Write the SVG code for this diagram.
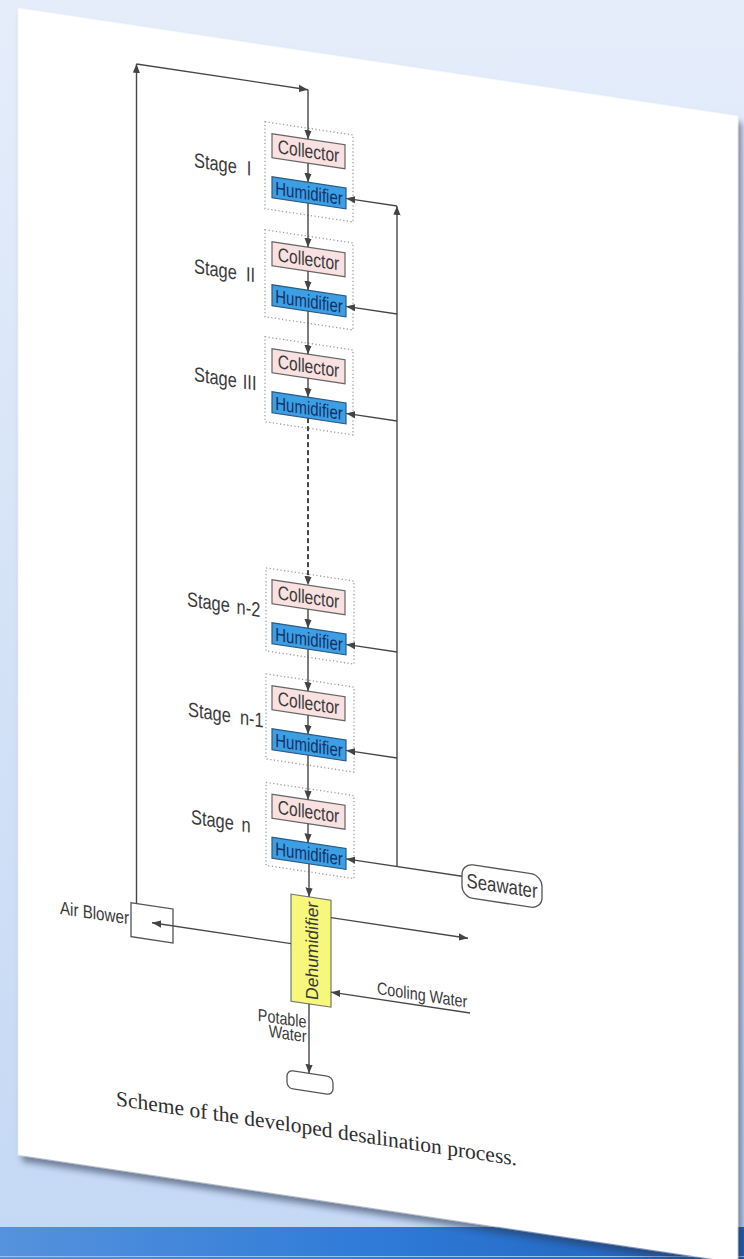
<svg xmlns="http://www.w3.org/2000/svg" width="744" height="1259" viewBox="0 0 744 1259">
<defs>
<linearGradient id="bg" x1="0" y1="0" x2="0" y2="1">
<stop offset="0" stop-color="#e5edfa"/>
<stop offset="1" stop-color="#c4d8f4"/>
</linearGradient>
<linearGradient id="bar" x1="0" y1="0" x2="1" y2="0">
<stop offset="0" stop-color="#5692dd"/>
<stop offset="0.5" stop-color="#2f7bd8"/>
<stop offset="1" stop-color="#1f5fb8"/>
</linearGradient>
<filter id="shadow" x="-5%" y="-5%" width="115%" height="115%">
<feDropShadow dx="4" dy="6" stdDeviation="3" flood-color="#2a3550" flood-opacity="0.55"/>
</filter>
<marker id="ah" viewBox="0 0 10 8" refX="10" refY="4" markerWidth="9" markerHeight="8" markerUnits="userSpaceOnUse" orient="auto">
<path d="M0,0 L10,4 L0,8 z" fill="#444"/>
</marker>
<style>
.ln{stroke:#474747;stroke-width:1.4;fill:none;marker-end:url(#ah)}
.dash{stroke-dasharray:5 3;stroke-width:2}
.dot{fill:none;stroke:#9a9a9a;stroke-width:1.3;stroke-dasharray:1.2 2.4}
.col{fill:#f9e1e1;stroke:#666;stroke-width:1.2}
.hum{fill:#3d9fe3;stroke:#2b5a86;stroke-width:1.2}
.deh{fill:#f7f77c;stroke:#777;stroke-width:1.2}
.box{fill:#fff;stroke:#555;stroke-width:1.3}
.t{font-family:"Liberation Sans",Arial,sans-serif;fill:#3a3a3a}
.tc{font-size:19.5px;text-anchor:middle}
.th{font-size:19px;text-anchor:middle;fill:#12326a}
.ts{font-size:20.5px}
.tm{font-size:17.5px}
.cap{font-family:"Liberation Serif","Times New Roman",serif;font-size:21.5px;fill:#2e2e2e}
</style>
</defs>
<rect x="0" y="0" width="744" height="1259" fill="url(#bg)"/>
<rect x="0" y="1227" width="744" height="32" fill="url(#bar)"/>
<rect x="0" y="1256" width="744" height="1" fill="#9cc0ee"/>
<g transform="matrix(1 0.15 0 1 0 0)">
<rect id="page" x="18" y="5.3" width="720" height="1147" fill="#ffffff" filter="url(#shadow)"/>

<g id="stage1">
<rect class="dot" x="265" y="82" width="88" height="87"/>
<text class="t ts" transform="translate(194 138) scale(0.8 1)">Stage<tspan x="66">I</tspan></text>
</g>
<g id="collector1"><rect class="col" x="272" y="93" width="73" height="24"/><text class="t tc" transform="translate(308.5 111.5) scale(0.8 1)">Collector</text></g>
<g id="humidifier1"><rect class="hum" x="272" y="136" width="74" height="21"/><text class="t th" transform="translate(309 153.5) scale(0.79 1)">Humidifier</text></g>

<g id="stage2">
<rect class="dot" x="265" y="190" width="88" height="87"/>
<text class="t ts" transform="translate(194 244) scale(0.8 1)">Stage<tspan x="65">II</tspan></text>
</g>
<g id="collector2"><rect class="col" x="272" y="201" width="73" height="24"/><text class="t tc" transform="translate(308.5 219.5) scale(0.8 1)">Collector</text></g>
<g id="humidifier2"><rect class="hum" x="272" y="244" width="74" height="21"/><text class="t th" transform="translate(309 261.5) scale(0.79 1)">Humidifier</text></g>

<g id="stage3">
<rect class="dot" x="265" y="297" width="88" height="85"/>
<text class="t ts" transform="translate(194 352) scale(0.8 1)">Stage<tspan x="61">III</tspan></text>
</g>
<g id="collector3"><rect class="col" x="272" y="308" width="73" height="24"/><text class="t tc" transform="translate(308.5 326.5) scale(0.8 1)">Collector</text></g>
<g id="humidifier3"><rect class="hum" x="272" y="351" width="74" height="21"/><text class="t th" transform="translate(309 368.5) scale(0.79 1)">Humidifier</text></g>

<g id="stage_n-2">
<rect class="dot" x="266" y="528" width="88" height="83"/>
<text class="t ts" transform="translate(187 578) scale(0.8 1)">Stage<tspan x="62">n-2</tspan></text>
</g>
<g id="collector_n-2"><rect class="col" x="272" y="539" width="73" height="24"/><text class="t tc" transform="translate(308.5 557.5) scale(0.8 1)">Collector</text></g>
<g id="humidifier_n-2"><rect class="hum" x="272" y="582" width="74" height="21"/><text class="t th" transform="translate(309 599.5) scale(0.79 1)">Humidifier</text></g>

<g id="stage_n-1">
<rect class="dot" x="266" y="634" width="88" height="85"/>
<text class="t ts" transform="translate(188 688) scale(0.8 1)">Stage<tspan x="65">n-1</tspan></text>
</g>
<g id="collector_n-1"><rect class="col" x="272" y="645" width="73" height="24"/><text class="t tc" transform="translate(308.5 663.5) scale(0.8 1)">Collector</text></g>
<g id="humidifier_n-1"><rect class="hum" x="272" y="688" width="74" height="21"/><text class="t th" transform="translate(309 705.5) scale(0.79 1)">Humidifier</text></g>

<g id="stage_n">
<rect class="dot" x="266" y="742.5" width="88" height="83"/>
<text class="t ts" transform="translate(191 795) scale(0.8 1)">Stage<tspan x="63">n</tspan></text>
</g>
<g id="collector_n"><rect class="col" x="272" y="753.5" width="73" height="24"/><text class="t tc" transform="translate(308.5 772) scale(0.8 1)">Collector</text></g>
<g id="humidifier_n"><rect class="hum" x="272" y="796.5" width="74" height="21"/><text class="t th" transform="translate(309 814) scale(0.79 1)">Humidifier</text></g>

<g id="seawater">
<rect class="box" x="462" y="794" width="80" height="33.5" rx="11"/>
<text class="t ts" text-anchor="middle" transform="translate(502 817.5) scale(0.82 1)">Seawater</text>
</g>
<g id="dehumidifier">
<rect class="deh" x="291" y="850.5" width="40" height="107"/>
<text class="t" font-size="17.5" text-anchor="middle" transform="translate(317.5 904) rotate(-90)">Dehumidifier</text>
</g>
<g id="air_blower">
<rect class="box" x="131" y="883" width="42" height="34"/>
<text class="t" font-size="18.5" text-anchor="end" transform="translate(129 905) scale(0.82 1)">Air Blower</text>
</g>
<g id="cooling_water">
<text class="t tm" transform="translate(377 937.5) scale(0.82 1)">Cooling Water</text>
</g>
<g id="potable_water">
<text class="t tm" text-anchor="end" transform="translate(306.5 982) scale(0.82 1)">Potable</text>
<text class="t tm" text-anchor="end" transform="translate(306.5 996.5) scale(0.82 1)">Water</text>
<rect class="box" x="287" y="1027" width="46" height="18" rx="6"/>
</g>

<g id="connectors">
<line class="ln" x1="136.5" y1="883" x2="136.5" y2="43.5"/>
<line class="ln" x1="136.5" y1="43.5" x2="308" y2="43.5"/>
<line class="ln" x1="308" y1="43.5" x2="308" y2="93"/>
<line class="ln" x1="308" y1="117" x2="308" y2="136"/>
<line class="ln" x1="308" y1="157" x2="308" y2="201"/>
<line class="ln" x1="308" y1="225" x2="308" y2="244"/>
<line class="ln" x1="308" y1="265" x2="308" y2="308"/>
<line class="ln" x1="308" y1="332" x2="308" y2="351"/>
<line class="ln dash" x1="308" y1="372" x2="308" y2="539"/>
<line class="ln" x1="308" y1="563" x2="308" y2="582"/>
<line class="ln" x1="308" y1="603" x2="308" y2="645"/>
<line class="ln" x1="308" y1="669" x2="308" y2="688"/>
<line class="ln" x1="308" y1="709" x2="308" y2="753.5"/>
<line class="ln" x1="308" y1="777.5" x2="308" y2="796.5"/>
<line class="ln" x1="309" y1="817.5" x2="309" y2="850.5"/>
<line class="ln" x1="397" y1="807" x2="397" y2="146.5"/>
<line class="ln" x1="397" y1="146.5" x2="346" y2="146.5"/>
<line class="ln" x1="397" y1="254.5" x2="346" y2="254.5"/>
<line class="ln" x1="397" y1="361.5" x2="346" y2="361.5"/>
<line class="ln" x1="397" y1="592.5" x2="346" y2="592.5"/>
<line class="ln" x1="397" y1="698.5" x2="346" y2="698.5"/>
<line class="ln" x1="462" y1="807" x2="346" y2="807"/>
<line class="ln" x1="291" y1="900" x2="152" y2="900"/>
<line class="ln" x1="331" y1="868" x2="468" y2="868"/>
<line class="ln" x1="470" y1="942.5" x2="331" y2="942.5"/>
<line class="ln" x1="309" y1="957.5" x2="309" y2="1027"/>
</g>
<text class="cap" x="116" y="1088">Scheme of the developed desalination process.</text>
</g>
</svg>
